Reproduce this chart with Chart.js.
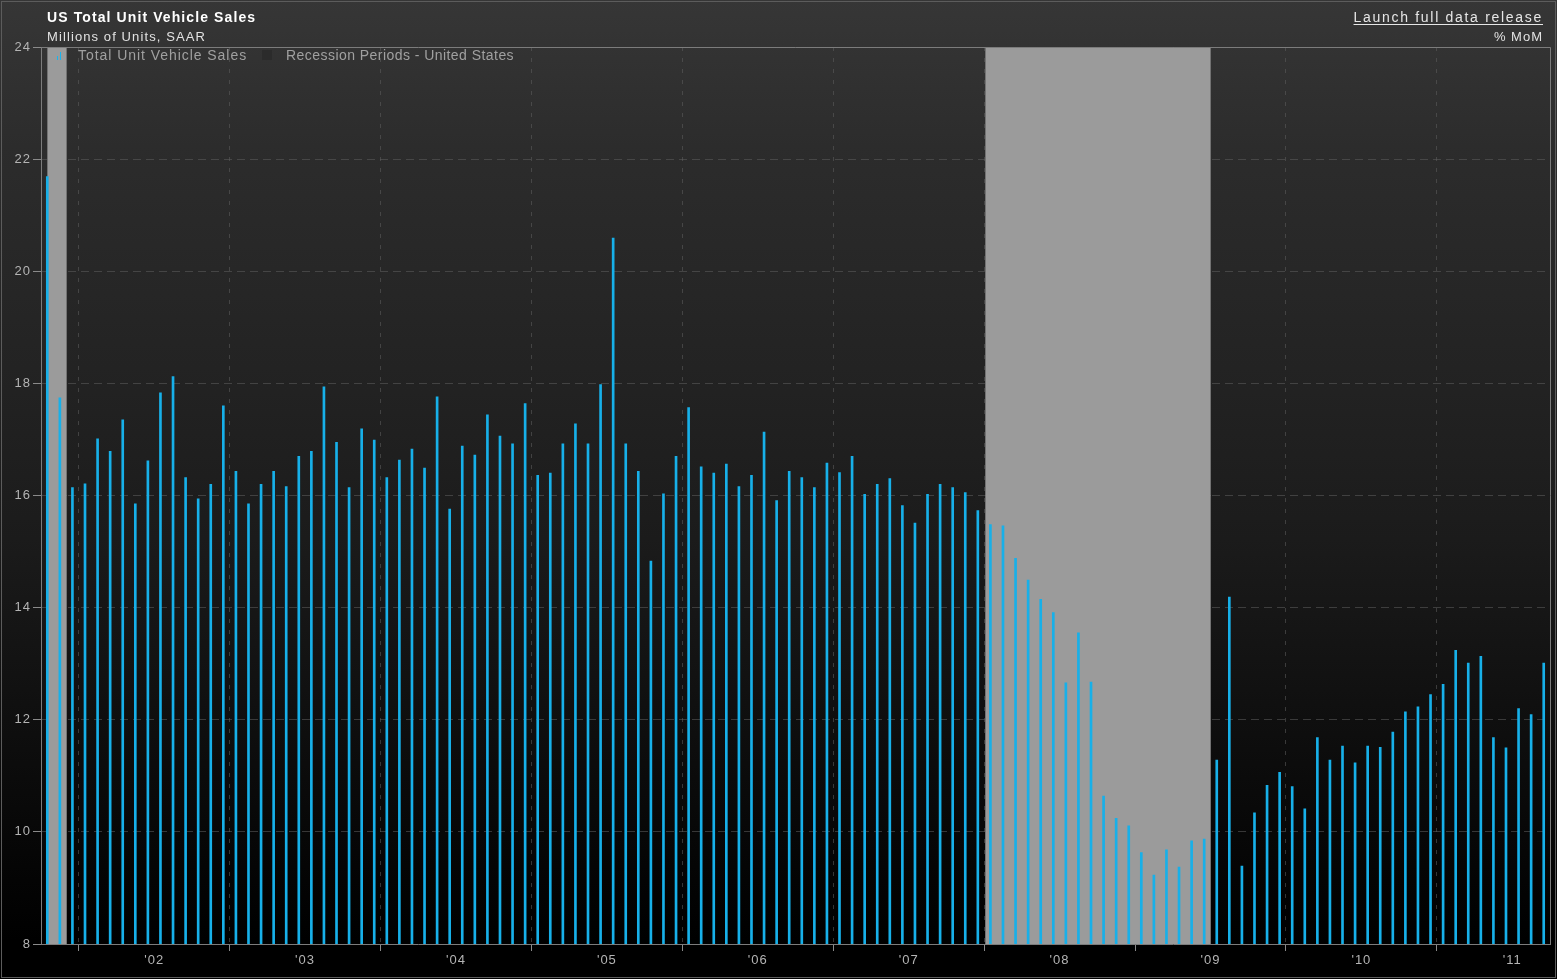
<!DOCTYPE html>
<html>
<head>
<meta charset="utf-8">
<script src="https://cdn.jsdelivr.net/npm/chart.js@4.4.1/dist/chart.umd.min.js"></script>
<style>
  html, body { margin: 0; padding: 0; background: #000; }
  #wrap {
    position: relative; width: 1557px; height: 979px; overflow: hidden;
    background: linear-gradient(to bottom, #363636 0%, #2c2c2c 15%, #222 40%, #1b1b1b 55%, #0e0e0e 75%, #000 96%);
    font-family: "Liberation Sans", Arial, sans-serif;
  }
  #wrap canvas { position: absolute; left: 0; top: 0; }
  .txt { position: absolute; white-space: nowrap; }
  #title { left: 47px; top: 9px; font-size: 14px; font-weight: bold; color: #fff; letter-spacing: 1.1px; }
  #sub { left: 47px; top: 29px; font-size: 13px; color: #e2e2e2; letter-spacing: 1.1px; }
  #launch { right: 14px; top: 9px; font-size: 14px; color: #e6e6e6; letter-spacing: 1.7px; text-decoration: underline; text-underline-offset: 2px; }
  #mom { right: 14px; top: 29px; font-size: 13px; color: #e2e2e2; letter-spacing: 1px; }
  .leg { top: 47px; font-size: 14px; color: #a0a0a0; }
  #leg1 { left: 78px; letter-spacing: 0.95px; }
  #leg2 { left: 286px; letter-spacing: 0.45px; }
  #legIcon { position: absolute; left: 57px; top: 52px; width: 5px; height: 8px; }
  #legIcon i { position: absolute; bottom: 0; width: 1px; background: #19b4ee; }
  #legBox { position: absolute; left: 262px; top: 50px; width: 10px; height: 10px; background: #2b2b2b; }
</style>
</head>
<body>
<div id="wrap">
  <canvas id="chart" width="1557" height="979"></canvas>
  <div class="txt" id="title">US Total Unit Vehicle Sales</div>
  <div class="txt" id="sub">Millions of Units, SAAR</div>
  <div class="txt" id="launch">Launch full data release</div>
  <div class="txt" id="mom">% MoM</div>
  <div id="legIcon"><i style="left:0;height:4px"></i><i style="left:3px;height:8px"></i></div>
  <div class="txt leg" id="leg1">Total Unit Vehicle Sales</div>
  <div id="legBox"></div>
  <div class="txt leg" id="leg2">Recession Periods - United States</div>
</div>
<script>
// first month of the series (Oct 2001), then one value per month
const firstYear = 2001;
const firstMonth = 10;

// Millions of units, SAAR
const sales = [
    21.69, 17.74, 16.14,                                                               // 2001 Oct-Dec
    16.21, 17.01, 16.79, 17.35, 15.85, 16.62, 17.83, 18.12, 16.32, 15.94, 16.20, 17.60, // 2002
    16.43, 15.85, 16.20, 16.43, 16.16, 16.70, 16.79, 17.94, 16.95, 16.14, 17.19, 16.99, // 2003
    16.32, 16.63, 16.83, 16.49, 17.76, 15.76, 16.88, 16.72, 17.44, 17.06, 16.92, 17.64, // 2004
    16.36, 16.40, 16.92, 17.28, 16.92, 17.98, 20.59, 16.92, 16.43, 14.83, 16.03, 16.70, // 2005
    17.57, 16.51, 16.40, 16.56, 16.16, 16.36, 17.13, 15.91, 16.43, 16.32, 16.14, 16.58, // 2006
    16.41, 16.70, 16.02, 16.20, 16.30, 15.82, 15.51, 16.02, 16.20, 16.14, 16.05, 15.73, // 2007
    15.48, 15.46, 14.88, 14.49, 14.15, 13.91, 12.66, 13.55, 12.67, 10.64, 10.24, 10.11, // 2008
     9.63,  9.23,  9.68,  9.37,  9.84,  9.87, 11.28, 14.19,  9.39, 10.34, 10.83, 11.06, // 2009
    10.81, 10.41, 11.68, 11.28, 11.53, 11.23, 11.53, 11.51, 11.78, 12.14, 12.23, 12.45, // 2010
    12.63, 13.24, 13.01, 13.13, 11.68, 11.50, 12.20, 12.09, 13.01                       // 2011 Jan-Sep
];

// NBER peak / trough months
const recessions = [
    ['2001-03', '2001-11'],
    ['2007-12', '2009-06']
];

const yearLabels = ["'02", "'03", "'04", "'05", "'06", "'07", "'08", "'09", "'10", "'11"];
const yTicks = [8, 10, 12, 14, 16, 18, 20, 22, 24];

// month string -> index on the x axis (0 = first month of the series)
const monthIndex = (s) => {
    const [y, m] = s.split('-').map(Number);
    return (y - firstYear) * 12 + (m - firstMonth);
};

const yearStarts = yearLabels.map(l => monthIndex('20' + l.slice(1) + '-01'));
const labelPos = {};
yearLabels.forEach(l => { labelPos[monthIndex('20' + l.slice(1) + '-07')] = l; });

const points = sales.map((v, i) => ({ x: i + 0.5, y: v }));

const GRID = 'rgba(95,95,95,0.55)';
const AXIS = '#7c7c7c';
const TICKTXT = '#b4b4b4';

// recession shading + top/right frame
const framePlugin = {
    id: 'frame',
    beforeDraw(chart) {
        chart.ctx.letterSpacing = '1px';
    },
    beforeDatasetsDraw(chart) {
        const { ctx, chartArea: a, scales: { x } } = chart;
        ctx.save();
        recessions.forEach(([peak, trough]) => {
            const from = Math.max(monthIndex(peak) + 1, 0.4);
            const to = Math.min(monthIndex(trough) + 1, sales.length);
            if (to <= 0) return;
            const x0 = Math.round(x.getPixelForValue(from)) + 1;
            const x1 = Math.round(x.getPixelForValue(to)) + 1;
            ctx.fillStyle = '#9b9b9b';
            ctx.fillRect(x0, a.top, x1 - x0, a.bottom - a.top);
            ctx.strokeStyle = '#727272';
            ctx.lineWidth = 1;
            ctx.beginPath();
            ctx.moveTo(x0 + 0.5, a.top); ctx.lineTo(x0 + 0.5, a.bottom);
            ctx.moveTo(x1 - 0.5, a.top); ctx.lineTo(x1 - 0.5, a.bottom);
            ctx.stroke();
        });
        ctx.restore();
    },
    afterDraw(chart) {
        const { ctx, chartArea: a } = chart;
        ctx.save();
        ctx.strokeStyle = AXIS;
        ctx.lineWidth = 1;
        ctx.beginPath();
        ctx.moveTo(a.left, a.top + 0.5); ctx.lineTo(a.right + 0.5, a.top + 0.5);
        ctx.lineTo(a.right + 0.5, a.bottom);
        ctx.stroke();
        // outer frame
        ctx.strokeStyle = '#5c5c5c';
        ctx.strokeRect(1.5, 1.5, chart.width - 3, chart.height - 3);
        ctx.restore();
    }
};

Chart.defaults.font.family = '"Liberation Sans", Arial, sans-serif';
Chart.defaults.font.size = 13;
Chart.defaults.color = TICKTXT;

new Chart(document.getElementById('chart'), {
    type: 'bar',
    data: {
        datasets: [{
            label: 'Total Unit Vehicle Sales',
            data: points,
            backgroundColor: '#17b0e9',
            borderWidth: 0,
            barThickness: 2
        }]
    },
    options: {
        responsive: false,
        animation: false,
        events: [],
        layout: { padding: { top: 47, right: 7, bottom: 3, left: 0 } },
        plugins: { legend: { display: false }, tooltip: { enabled: false } },
        scales: {
            x: {
                type: 'linear',
                min: 0,
                max: sales.length,
                offset: false,
                afterBuildTicks: (s) => {
                    const vals = [...yearStarts, ...Object.keys(labelPos).map(Number)].sort((p, q) => p - q);
                    s.ticks = vals.map(v => ({ value: v }));
                },
                afterFit: (s) => { s.height = 32; },
                ticks: {
                    autoSkip: false,
                    maxRotation: 0,
                    minRotation: 0,
                    padding: 2,
                    color: TICKTXT,
                    callback: (v) => labelPos[v] || ''
                },
                grid: {
                    offset: false,
                    color: (c) => (c.tick && yearStarts.includes(c.tick.value)) ? GRID : 'transparent',
                    tickColor: (c) => (c.tick && yearStarts.includes(c.tick.value)) ? '#8a8a8a' : 'transparent',
                    tickLength: 7,
                    tickBorderDash: []
                },
                border: { display: true, color: AXIS, dash: [4, 7] }
            },
            y: {
                min: 8,
                max: 24,
                afterBuildTicks: (s) => { s.ticks = yTicks.map(v => ({ value: v })); },
                afterFit: (s) => { s.width = 41; },
                ticks: { padding: 2, color: TICKTXT },
                grid: {
                    color: (c) => (c.tick && (c.tick.value === 8 || c.tick.value === 24)) ? 'transparent' : GRID,
                    tickColor: '#8a8a8a',
                    tickLength: 8,
                    tickBorderDash: []
                },
                border: { display: true, color: AXIS, dash: [8, 5] }
            }
        }
    },
    plugins: [framePlugin]
});
</script>
</body>
</html>
